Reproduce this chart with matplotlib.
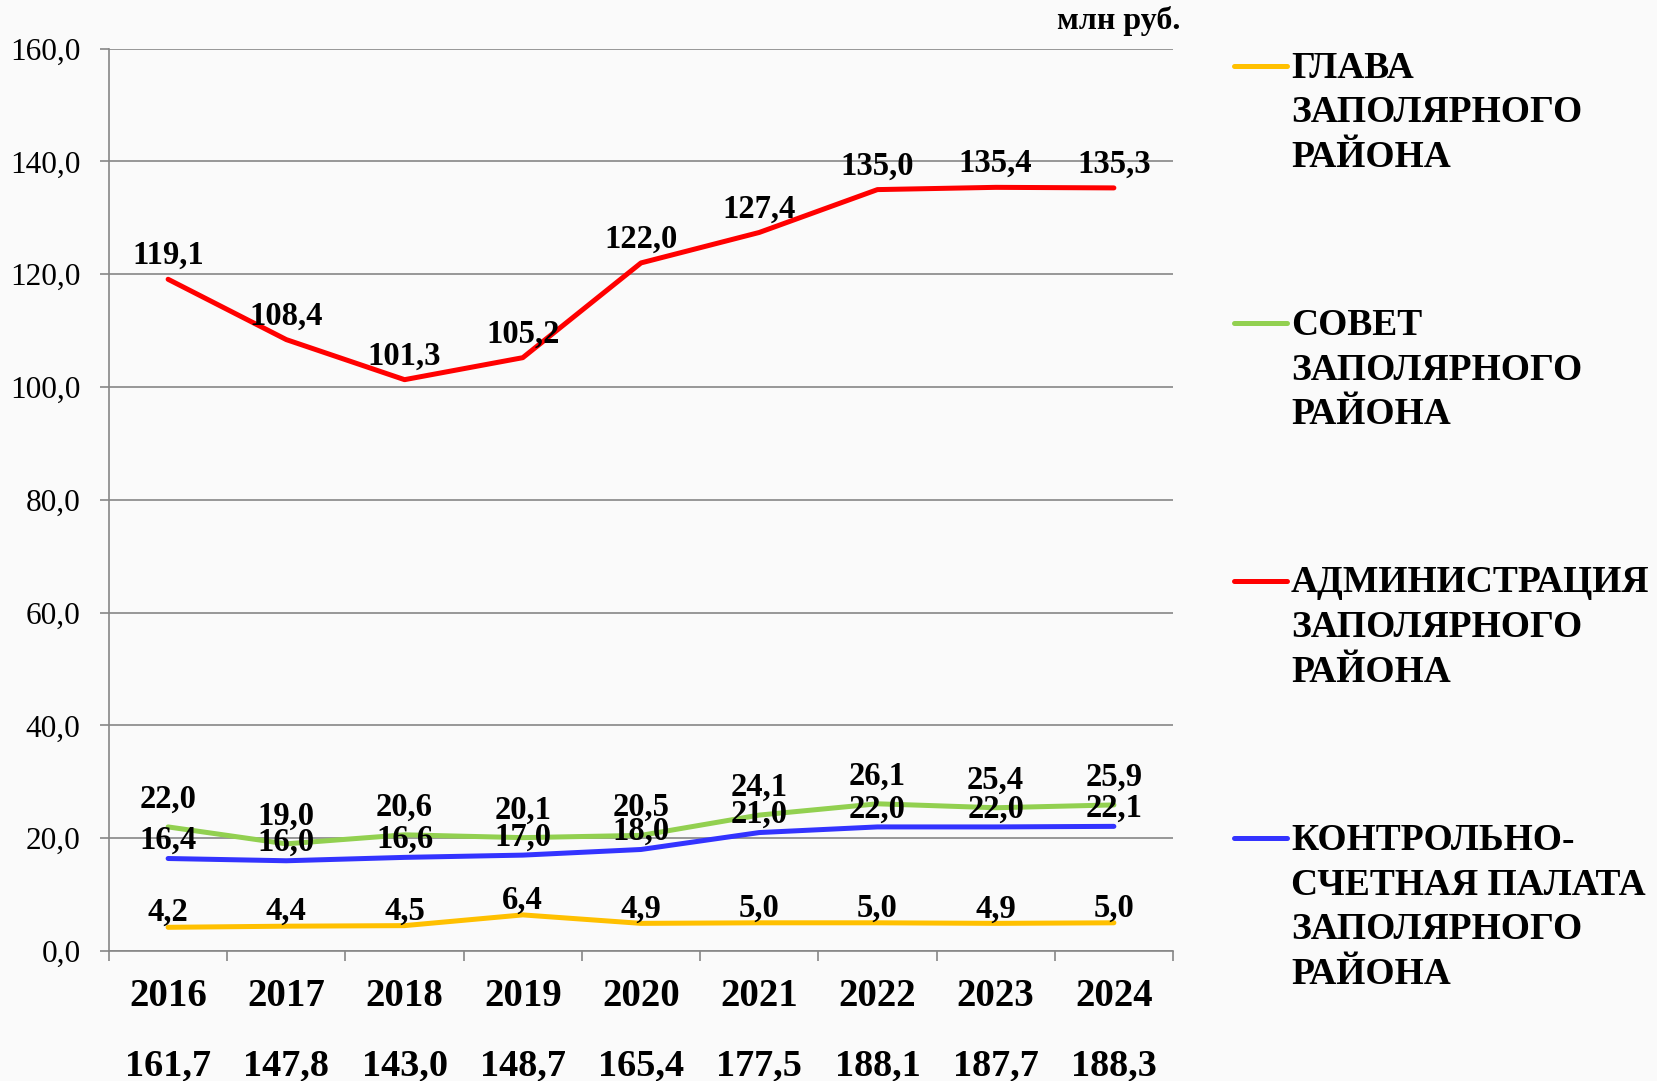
import matplotlib
matplotlib.use("Agg")
import matplotlib.pyplot as plt
from matplotlib.lines import Line2D
import numpy as np

plt.rcParams["font.family"] = ["Liberation Serif", "DejaVu Serif"]

YEARS = ["2016", "2017", "2018", "2019", "2020", "2021", "2022", "2023", "2024"]
TOTALS = ["161,7", "147,8", "143,0", "148,7", "165,4", "177,5", "188,1", "187,7", "188,3"]

GLAVA = [4.2, 4.4, 4.5, 6.4, 4.9, 5.0, 5.0, 4.9, 5.0]
SOVET = [22.0, 19.0, 20.6, 20.1, 20.5, 24.1, 26.1, 25.4, 25.9]
ADMIN = [119.1, 108.4, 101.3, 105.2, 122.0, 127.4, 135.0, 135.4, 135.3]
KSP = [16.4, 16.0, 16.6, 17.0, 18.0, 21.0, 22.0, 22.0, 22.1]

NAMES = [
    "ГЛАВА\nЗАПОЛЯРНОГО\nРАЙОНА",
    "СОВЕТ\nЗАПОЛЯРНОГО\nРАЙОНА",
    "АДМИНИСТРАЦИЯ\nЗАПОЛЯРНОГО\nРАЙОНА",
    "КОНТРОЛЬНО-\nСЧЕТНАЯ ПАЛАТА\nЗАПОЛЯРНОГО\nРАЙОНА",
]
COLORS = ["#FFC000", "#92D050", "#FF0000", "#3333FF"]
LABEL_OFFSETS = [10.5, 20, 17, 13]  # points above the point

W, H = 1657, 1081
GRID = "#868686"


def fmt(v):
    return f"{v:.1f}".replace(".", ",")


def main():
    fig = plt.figure(figsize=(W / 100, H / 100), dpi=100, facecolor="#FAFAFA")
    ax = fig.add_axes([109 / W, 1 - 951 / H, (1173 - 109) / W, (951 - 48.6) / H])
    ax.set_facecolor("none")

    x = np.arange(len(YEARS))
    series = [GLAVA, SOVET, ADMIN, KSP]
    for vals, color, off in zip(series, COLORS, LABEL_OFFSETS):
        ax.plot(x, vals, color=color, lw=3.6, solid_capstyle="round",
                solid_joinstyle="round", zorder=3)
        for xi, v in zip(x, vals):
            ax.annotate(fmt(v), xy=(xi, v), xytext=(0, off), textcoords="offset points",
                        ha="center", va="center", fontsize=23.5, fontweight="bold",
                        zorder=4)

    ax.set_xlim(-0.5, len(YEARS) - 0.5)
    ax.set_ylim(0, 160)
    ax.set_yticks(np.arange(0, 161, 20))
    ax.set_yticklabels([fmt(v) for v in np.arange(0, 161, 20)], fontsize=22.5)
    ax.yaxis.grid(True, color=GRID, lw=1.2)
    ax.set_axisbelow(True)

    for s in ["top", "right"]:
        ax.spines[s].set_visible(False)
    for s in ["left", "bottom"]:
        ax.spines[s].set_color(GRID)
        ax.spines[s].set_linewidth(1.2)

    ax.tick_params(axis="y", length=6.5, width=1.2, color=GRID, pad=14)

    ax.set_xticks(x)
    ax.set_xticklabels(YEARS, fontsize=28, fontweight="bold")
    ax.tick_params(axis="x", which="major", length=0, pad=32.5)
    for lbl in ax.get_xticklabels():
        lbl.set_va("center")
    ax.set_xticks(np.arange(-0.5, len(YEARS), 1), minor=True)
    ax.tick_params(axis="x", which="minor", length=7.5, width=1.2, color=GRID)

    for xi, t in zip(x, TOTALS):
        ax.annotate(t, xy=(xi, 0), xycoords=("data", "axes fraction"),
                    xytext=(0, -83), textcoords="offset points",
                    ha="center", va="center", fontsize=27.5, fontweight="bold")

    fig.text(1180 / W, 1 - 21 / H, "млн руб.", ha="right", va="center",
             fontsize=23, fontweight="bold")

    # legend drawn by hand, one entry per series
    for i, (name, color) in enumerate(zip(NAMES, COLORS)):
        yc = 65.5 + i * 257.5
        fig.add_artist(Line2D([1234 / W, 1287 / W], [1 - yc / H, 1 - yc / H],
                              color=color, lw=3.6, solid_capstyle="round"))
        fig.text(1291 / W, 1 - (yc - 15) / H, name, ha="left", va="top",
                 fontsize=27, fontweight="bold", linespacing=1.36)

    fig.savefig("out.png", dpi=100, facecolor=fig.get_facecolor())
    plt.close(fig)


if __name__ == "__main__":
    main()
